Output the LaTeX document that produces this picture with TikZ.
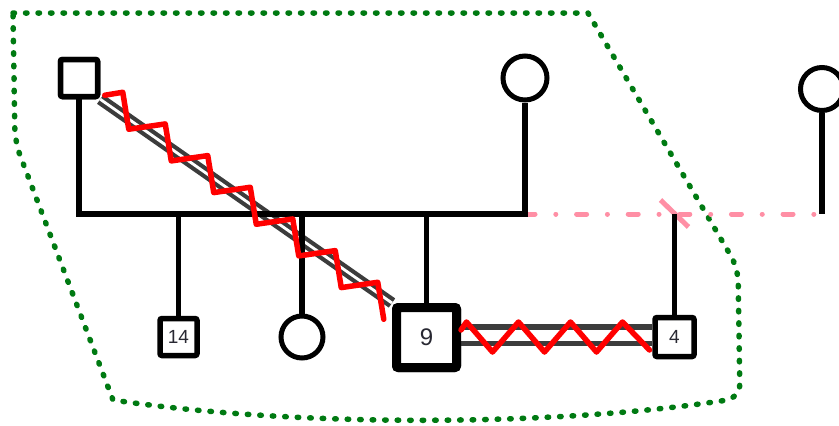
\documentclass[tikz,border=0pt]{standalone}
\usepackage{fontspec}
\setmainfont{Liberation Sans}
\definecolor{dkgreen}{RGB}{0,122,18}
\definecolor{pinkline}{RGB}{255,143,165}
\definecolor{dblgray}{RGB}{60,60,60}
\definecolor{txt}{RGB}{40,40,50}
\tikzset{
  x=1pt, y=-1pt,
  blk/.style={line width=5.5pt, black},
  male/.style={draw=black, line width=5.5pt, rectangle, rounded corners=2pt, minimum size=37pt, inner sep=0pt, fill=white, text=txt},
  female/.style={draw=black, line width=5pt, circle, inner sep=0pt, fill=white},
  dblline/.style={draw=dblgray, double=white},
  zz/.style={draw=red, line width=5.5pt, line join=round, line cap=round},
  boundary/.style={draw=dkgreen, line width=5.5pt, line cap=round, dash pattern=on 1.5pt off 11pt},
  dashdot/.style={draw=pinkline, line width=5pt, line cap=round, dash pattern=on 10pt off 20.8pt on 0.01pt off 20.8pt},
}
\begin{document}
\begin{tikzpicture}
\useasboundingbox (0,0) rectangle (839,426);
\clip (0,0) rectangle (839,426);
\fill[white] (0,0) rectangle (839,426);

% green boundary
\draw[boundary] (13,13) -- (588,13)
  [rounded corners=14pt] -- (738,268) -- (740,398) [sharp corners]
  .. controls (560,426) and (300,428) .. (113,400)
  [rounded corners=14pt] -- (15,142) [sharp corners] -- cycle;

% nodes
\node[male] (F) at (79,78) {};
\node[female, minimum size=44pt] (M) at (525,78) {};
\node[female, minimum size=43pt] (M2) at (822,89) {};
\node[male, minimum size=37pt, font=\fontsize{19}{19}\selectfont] (c14) at (178.5,337) {14};
\node[female, minimum size=42pt] (cf) at (302,337) {};
\node[male, line width=9pt, minimum size=60pt, font=\fontsize{24}{24}\selectfont] (c9) at (426.5,337.5) {9};
\node[male, minimum size=39pt, font=\fontsize{19}{19}\selectfont] (c4) at (674.5,337) {4};

\coordinate (sibL) at (79,214);
\coordinate (sibR) at (525,214);
\coordinate (sib2R) at (822,214);

% pink second union line
\draw[dashdot] (sibR) -- (sib2R);
\draw[pinkline, line width=5pt] ([shift={(-14,-14)}]c4.north |- sibR) -- ([shift={(14,13)}]c4.north |- sibR);

% double lines
\draw[dblline, line width=4.2pt, double distance=2.8pt] (F.south east) -- (c9.north west);
\draw[dblline, line width=5.5pt, double distance=11pt] ([yshift=2.5pt]c9.east) -- ([yshift=2.5pt]c9.east -| c4.west);

% black pedigree lines
\draw[blk] (F.south) -- (sibL) -- (sibR) -- (M.south);
\draw[blk] (M2.south) -- (sib2R);
\draw[blk] (c14.north) -- (c14.north |- sibL);
\draw[blk] (cf.north) -- (cf.north |- sibL);
\draw[blk] (c9.north) -- (c9.north |- sibL);
\draw[blk] (c4.north) -- (c4.north |- sibR);

% redraw node borders over double lines
\node[male] at (F) {};
\node[male, line width=9pt, minimum size=60pt, font=\fontsize{24}{24}\selectfont] at (c9) {9};

% red zigzags
\draw[zz] (F.south east) ++(4.5,-4) -- ++(18,-3)
  -- ++(6,37) -- ++(36.5,-5.33)
  -- ++(6,37) -- ++(36.5,-5.33)
  -- ++(6,37) -- ++(36.5,-5.33)
  -- ++(6,37) -- ++(36.5,-5.33)
  -- ++(6,37) -- ++(36.5,-5.33)
  -- ++(6,37) -- ++(36.5,-5.33)
  -- ++(6,37);
\draw[zz] ([yshift=7.5pt]c9.east) -- ++(5.5,-8)
  -- ++(26,30) -- ++(26,-30)
  -- ++(26,30) -- ++(26,-30)
  -- ++(26,30) -- ++(26,-30)
  -- ++(27,28);
\end{tikzpicture}
\end{document}
